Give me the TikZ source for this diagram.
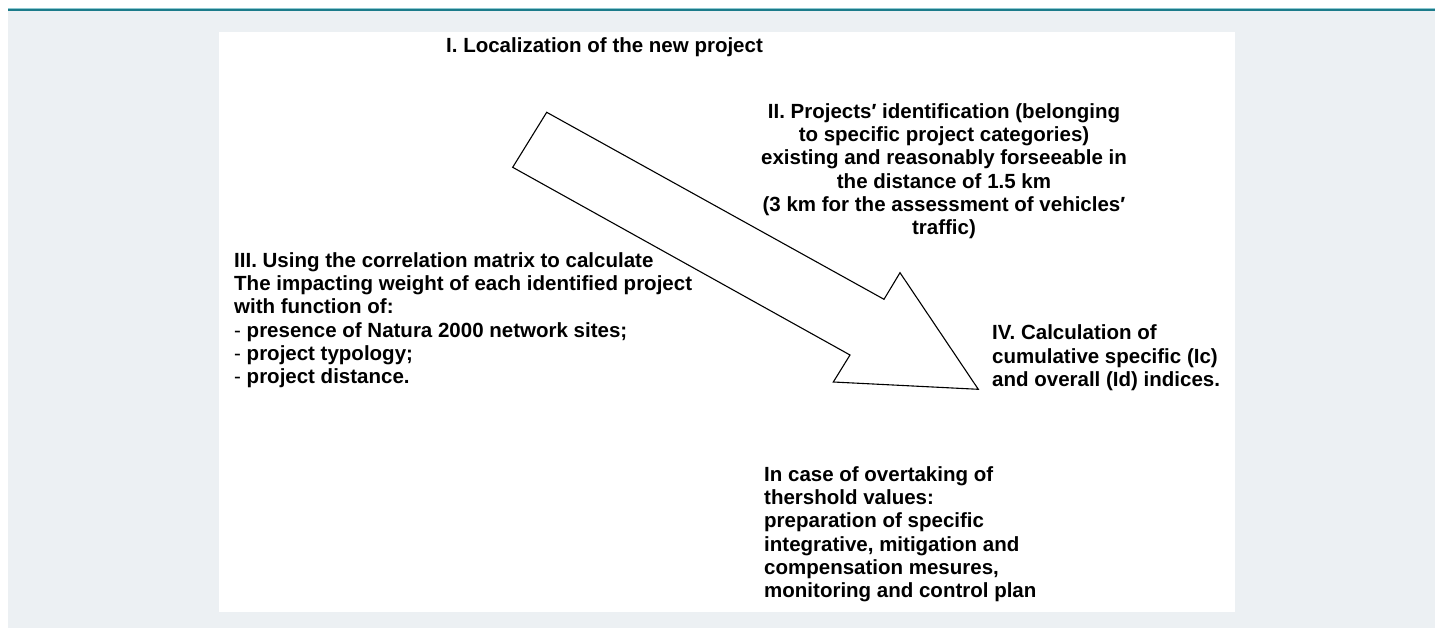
\documentclass[tikz,border=0pt]{standalone}
\usepackage{fontspec}
\setmainfont{Liberation Sans}
\newcommand\stagefont{\fontsize{20.5}{23.3}\selectfont\bfseries}
\newcommand\dashitem{\textmd{-} }
\definecolor{pagegray}{HTML}{ECF0F3}
\definecolor{rulelight}{HTML}{8FC9D1}
\definecolor{ruledark}{HTML}{1B7B8A}
\begin{document}
\begin{tikzpicture}[x=1pt,y=-1pt,
  stage/.style={inner sep=0pt, font=\stagefont},
  flowarrow/.style={draw=black, line width=1.1pt, line join=miter, fill=white}]
  % canvas, page background and top rule
  \useasboundingbox (0,0) rectangle (1435,628);
  \fill[white] (0,0) rectangle (1435,628);
  \fill[pagegray] (8,11) rectangle (1435,628);
  \fill[rulelight] (8,8) rectangle (1435,9);
  \fill[ruledark] (8,9) rectangle (1435,11);
  % white figure panel
  \fill[white] (219,32) rectangle (1235,612);

  % large outlined arrow
  \draw[flowarrow] (546.7,112.3) -- (884,299.3) -- (900,272.7) -- (978.3,389.3)
    -- (833.3,382) -- (850,355) -- (512.7,167.3) -- cycle;

  % stage texts
  \node[stage, anchor=base west] (s1) at (446,53)
    {I. Localization of the new project};

  \node[stage, anchor=base] (s2) at (944,118.3)
    {\begin{tabular}[t]{@{}c@{}}
      II. Projects′ identification (belonging\\
      to specific project categories)\\
      existing and reasonably forseeable in\\
      the distance of 1.5 km\\
      (3 km for the assessment of vehicles′\\
      traffic)
    \end{tabular}};

  \node[stage, anchor=base west] (s3) at (234,267.3)
    {\begin{tabular}[t]{@{}l@{}}
      III. Using the correlation matrix to calculate\\
      The impacting weight of each identified project\\
      with function of:\\
      \dashitem presence of Natura 2000 network sites;\\
      \dashitem project typology;\\
      \dashitem project distance.
    \end{tabular}};

  \node[stage, anchor=base west] (s4) at (992,340)
    {\begin{tabular}[t]{@{}l@{}}
      IV. Calculation of\\
      cumulative specific (Ic)\\
      and overall (Id) indices.
    \end{tabular}};

  \node[stage, anchor=base west] (s5) at (764,481.2)
    {\begin{tabular}[t]{@{}l@{}}
      In case of overtaking of\\
      thershold values:\\
      preparation of specific\\
      integrative, mitigation and\\
      compensation mesures,\\
      monitoring and control plan
    \end{tabular}};
\end{tikzpicture}
\end{document}
